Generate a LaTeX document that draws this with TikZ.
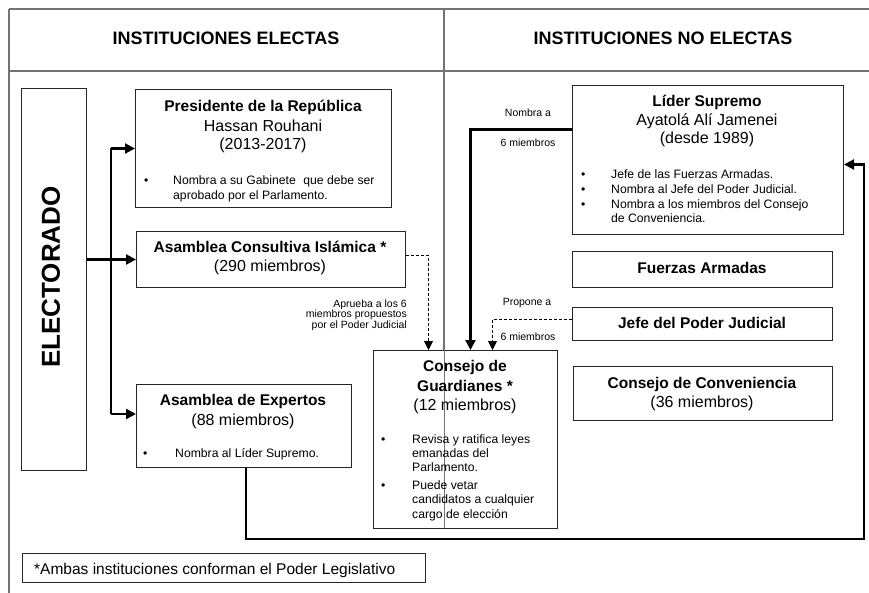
\documentclass[tikz,border=0pt]{standalone}
\usepackage{fontspec}
\setmainfont{Liberation Sans}
\usetikzlibrary{arrows.meta}
\tikzset{
  framel/.style={draw=black!55, line width=1.2pt},
  divl/.style={draw=black!55, line width=0.8pt},
  box/.style={draw=black!85, line width=1pt, inner sep=0pt, anchor=north west},
  hdr/.style={font=\fontsize{18}{20}\selectfont\bfseries, inner sep=0pt, anchor=mid, yshift=-2pt},
  ttl/.style={font=\fontsize{15.5}{18}\selectfont\bfseries, inner sep=0pt, anchor=mid, yshift=-3pt},
  sub/.style={font=\fontsize{16}{18}\selectfont, inner sep=0pt, anchor=mid, yshift=-3pt},
  bul/.style={font=\fontsize{12.2}{14}\selectfont, inner sep=0pt, anchor=mid west, yshift=-2pt},
  lbl/.style={font=\fontsize{10.5}{12}\selectfont, inner sep=0pt, anchor=mid, yshift=-2pt},
  conn/.style={draw=black, line width=2.2pt},
  arr/.style={conn, -{Triangle[length=10pt,width=10pt]}},
  dasharr/.style={draw=black, line width=0.9pt, dash pattern=on 3pt off 2pt, -{Triangle[length=9pt,width=9pt]}},
}
\begin{document}
\begin{tikzpicture}[x=1pt,y=-1pt]
\useasboundingbox (0,0) rectangle (869,593);
% frame
\draw[framel] (9,9) -- (869,9);
\draw[framel] (9,9) -- (9,593);
\draw[framel] (9,71) -- (869,71);
% headers
\node[hdr] (h1) at (226,40) {INSTITUCIONES ELECTAS};
\node[hdr] (h2) at (663,40) {INSTITUCIONES NO ELECTAS};
% boxes
\node[box, minimum width=65pt, minimum height=382pt] (elec) at (21,88) {};
\node[box, minimum width=256pt, minimum height=118pt] (pres) at (135,89) {};
\node[box, minimum width=269pt, minimum height=56pt] (cons) at (136,231) {};
\node[box, minimum width=215pt, minimum height=83pt] (expe) at (136,384) {};
\node[box, minimum width=184pt, minimum height=178pt] (guar) at (373,350) {};
\node[box, minimum width=271pt, minimum height=149pt] (lider) at (572,85) {};
\node[box, minimum width=260pt, minimum height=36pt] (fuer) at (572,251) {};
\node[box, minimum width=260pt, minimum height=33pt] (jefe) at (572,307) {};
\node[box, minimum width=259pt, minimum height=54pt] (conv) at (573,366) {};
\node[box, minimum width=403pt, minimum height=29pt] (foot) at (22,553) {};
% divider
\draw[framel] (444,9) -- (444,350);
\draw[divl] (444,350) -- (444,528);
% texts
\node[font=\fontsize{26}{28}\selectfont\bfseries, inner sep=0pt, rotate=90] (telec) at (51,277) {ELECTORADO};
\node[ttl] (p1) at (263,106) {Presidente de la República};
\node[sub] (p2) at (263,126) {Hassan Rouhani};
\node[sub] (p3) at (263,144) {(2013-2017)};
\node[bul] (pb) at (144,180) {•};
\node[bul] (p4) at (173,180) {Nombra a su Gabinete\hspace{4pt} que debe ser};
\node[bul] (p5) at (173,195) {aprobado por el Parlamento.};
\node[ttl] (c1) at (270,247) {Asamblea Consultiva Islámica *};
\node[sub] (c2) at (270,266) {(290 miembros)};
\node[ttl] (e1) at (243,400) {Asamblea de Expertos};
\node[sub] (e2) at (243,420) {(88 miembros)};
\node[bul] (eb) at (143,453) {•};
\node[bul] (e3) at (175,453) {Nombra al Líder Supremo.};
\node[ttl] (g1) at (465,366) {Consejo de};
\node[ttl] (g2) at (465,386) {Guardianes *};
\node[sub] (g3) at (465,405) {(12 miembros)};
\node[bul] (gb1) at (381,439) {•};
\node[bul] (g4) at (412,439) {Revisa y ratifica leyes};
\node[bul] (g5) at (412,453) {emanadas del};
\node[bul] (g6) at (412,467) {Parlamento.};
\node[bul] (gb2) at (381,485) {•};
\node[bul] (g7) at (412,485) {Puede vetar};
\node[bul] (g8) at (412,499) {candidatos a cualquier};
\node[bul] (g9) at (412,514) {cargo de elección};
\node[ttl] (l1) at (707,101) {Líder Supremo};
\node[sub] (l2) at (707,120) {Ayatolá Alí Jamenei};
\node[sub] (l3) at (707,138) {(desde 1989)};
\node[bul] (lb1) at (581,174) {•};
\node[bul] (l4) at (611,174) {Jefe de las Fuerzas Armadas.};
\node[bul] (lb2) at (581,189) {•};
\node[bul] (l5) at (611,189) {Nombra al Jefe del Poder Judicial.};
\node[bul] (lb3) at (581,204) {•};
\node[bul] (l6) at (611,204) {Nombra a los miembros del Consejo};
\node[bul] (l7) at (611,218) {de Conveniencia.};
\node[ttl] (f1) at (702,268) {Fuerzas Armadas};
\node[ttl] (j1) at (702,323) {Jefe del Poder Judicial};
\node[ttl] (v1) at (702,383) {Consejo de Conveniencia};
\node[sub] (v2) at (702,402) {(36 miembros)};
\node[font=\fontsize{15.5}{18}\selectfont, inner sep=0pt, anchor=mid west, yshift=-2pt] (ft) at (34,570) {*Ambas instituciones conforman el Poder Legislativo};
% connector labels
\node[lbl] (n1) at (528,112) {Nombra a};
\node[lbl] (n2) at (528,142) {6 miembros};
\node[lbl] (n3) at (527,301) {Propone a};
\node[lbl] (n4) at (528,336) {6 miembros};
\node[lbl, anchor=mid east] (a1) at (407,303) {Aprueba a los 6};
\node[lbl, anchor=mid east] (a2) at (407,313) {miembros propuestos};
\node[lbl, anchor=mid east] (a3) at (407,324) {por el Poder Judicial};
% connectors
\coordinate (tr) at (111,414);
\draw[arr] (elec.east |- cons.west) -- (cons.west);
\draw[conn] (pres.west -| tr) -- (tr);
\draw[arr] (pres.west -| tr) -- (pres.west);
\draw[arr] (tr) -- (tr -| expe.west);
\draw[dasharr] ([yshift=4pt]cons.east) -| ([xshift=-37pt]guar.north);
\draw[arr] ([yshift=30.5pt]lider.west) -| ([xshift=5pt]guar.north);
\draw[dasharr] ([yshift=5pt]jefe.west) -| ([xshift=27pt]guar.north);
\coordinate (br) at (864,539);
\draw[arr] ([xshift=2pt]expe.south) |- (br) |- ([yshift=-4.5pt]lider.east);
\end{tikzpicture}
\end{document}
